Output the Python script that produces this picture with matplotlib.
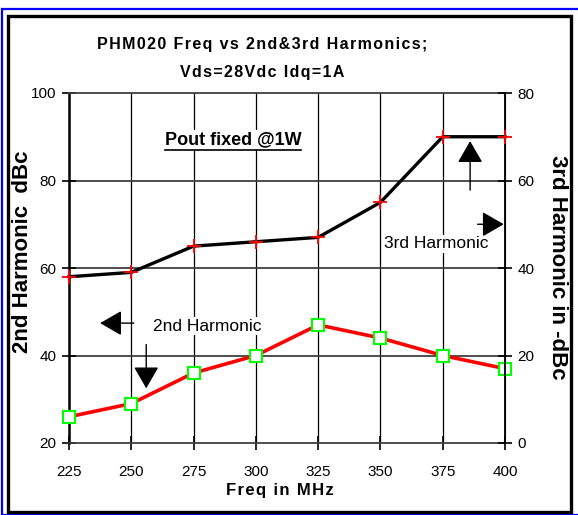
import matplotlib
matplotlib.use("Agg")
import matplotlib.pyplot as plt
from matplotlib.patches import Rectangle
from matplotlib.lines import Line2D

plt.rcParams['font.family'] = ['Liberation Sans', 'DejaVu Sans']

# data
freq = [225, 250, 275, 300, 325, 350, 375, 400]
h2_dbc = [26, 29, 36, 40, 47, 44, 40, 37]      # 2nd harmonic, left axis
h3_dbc = [38, 39, 45, 46, 47, 55, 70, 70]      # 3rd harmonic, right axis
left_ticks = [20, 40, 60, 80, 100]
right_ticks = [0, 20, 40, 60, 80]

fig = plt.figure(figsize=(5.78, 5.15), dpi=100)
W, H = 578, 515


def spaced(s):
    # slight letter spacing like the original title
    return '\u200a'.join(s)


# chart frame (blue outer, black inner)
fig.patches.append(Rectangle((2 / W, 0), 1.0, 1 - 9 / H, transform=fig.transFigure,
                             fill=False, edgecolor='#0000ff', lw=1.6))
fig.patches.append(Rectangle((8 / W, 3 / H), (571 - 8) / W, (512 - 16) / H,
                             transform=fig.transFigure, fill=False,
                             edgecolor='black', lw=2.4))

ax = fig.add_axes([69 / W, 1 - 443 / H, (505 - 69) / W, (443 - 93) / H])
ax2 = ax.twinx()

ax.set_xlim(225, 400)
ax.set_ylim(20, 100)
ax2.set_ylim(0, 80)
ax.set_xticks(freq)
ax.set_yticks(left_ticks)
ax2.set_yticks(right_ticks)

# grid
for f in freq[1:-1]:
    ax.axvline(f, color='black', lw=0.9, zorder=1)
for v in left_ticks[1:-1]:
    ax.axhline(v, color='#404040', lw=1.3, zorder=1)

ax.spines['left'].set_linewidth(1.8)
ax.spines['left'].set_color('black')
ax.spines['bottom'].set_color('#404040')
ax.spines['bottom'].set_linewidth(1.3)
ax.spines['top'].set_color('#404040')
ax.spines['top'].set_linewidth(1.3)
ax2.spines['right'].set_color('black')
ax2.spines['right'].set_linewidth(1.3)
for s in ['left', 'top', 'bottom']:
    ax2.spines[s].set_visible(False)

ax.tick_params(axis='both', direction='inout', length=10, width=1.2,
               labelsize=11, colors='black', pad=4)
ax.tick_params(axis='x', pad=11)
ax2.tick_params(axis='y', direction='inout', length=10, width=1.2,
                labelsize=11, pad=4)

# series
ax.plot(freq, h2_dbc, color='#ff0000', lw=2.6, marker='s', ms=8,
        mfc='white', mec='#00ff00', mew=1.5, zorder=5, clip_on=False)
ax2.plot(freq, h3_dbc, color='black', lw=2.4, marker='+', ms=10,
         mec='#ff0000', mew=1.3, zorder=5, clip_on=False)

# labels
ax.set_xlabel(spaced('Freq in MHz'), fontsize=12, fontweight='bold')
ax.xaxis.set_label_coords(0.484, -0.115)
ax.set_ylabel('2nd Harmonic  dBc', fontsize=16, fontweight='bold')
ax.yaxis.set_label_coords(-0.083, 0.546)
ax2.set_ylabel('3rd Harmonic in -dBc', fontsize=16, fontweight='bold',
               rotation=270, va='center')
ax2.yaxis.set_label_coords(1.12, 0.503)

fig.text(262 / W, 1 - 45 / H, spaced('PHM020 Freq vs 2nd&3rd Harmonics;'),
         ha='center', va='center', fontsize=11.5, fontweight='bold')
fig.text(262 / W, 1 - 72 / H, spaced('Vds=28Vdc Idq=1A'),
         ha='center', va='center', fontsize=11.5, fontweight='bold')

# annotations
box = dict(facecolor='white', edgecolor='none', pad=1)
ax.text(280.5, 46.7, '2nd Harmonic', ha='center', va='center', fontsize=12.5,
        bbox=box, zorder=4)
ax.text(372.5, 65.5, '3rd Harmonic', ha='center', va='center', fontsize=12.5,
        bbox=box, zorder=4)
pout = ax.text(290.8, 89.3, 'Pout fixed @1W', ha='center', va='center',
               fontsize=13, fontweight='bold', bbox=box, zorder=4)

arrow = dict(arrowstyle='-|>,head_length=0.45,head_width=0.26', color='black',
             lw=1.0, mutation_scale=30, shrinkA=0, shrinkB=0)
ax.annotate('', xy=(237.5, 47.4), xytext=(251, 47.4), arrowprops=arrow, zorder=6)
ax.annotate('', xy=(256, 32.5), xytext=(256, 42.5), arrowprops=arrow, zorder=6)
ax.annotate('', xy=(386, 89.0), xytext=(386, 77.8), arrowprops=arrow, zorder=6)
ax.annotate('', xy=(399.5, 70), xytext=(389, 70), arrowprops=arrow, zorder=6)

# underline for "Pout fixed @1W"
fig.canvas.draw()
bb = pout.get_window_extent().transformed(fig.transFigure.inverted())
fig.lines.append(Line2D([bb.x0, bb.x1], [bb.y0 - 1.5 / H, bb.y0 - 1.5 / H],
                        transform=fig.transFigure, color='black', lw=1.2))

fig.savefig('out.png', dpi=100)
